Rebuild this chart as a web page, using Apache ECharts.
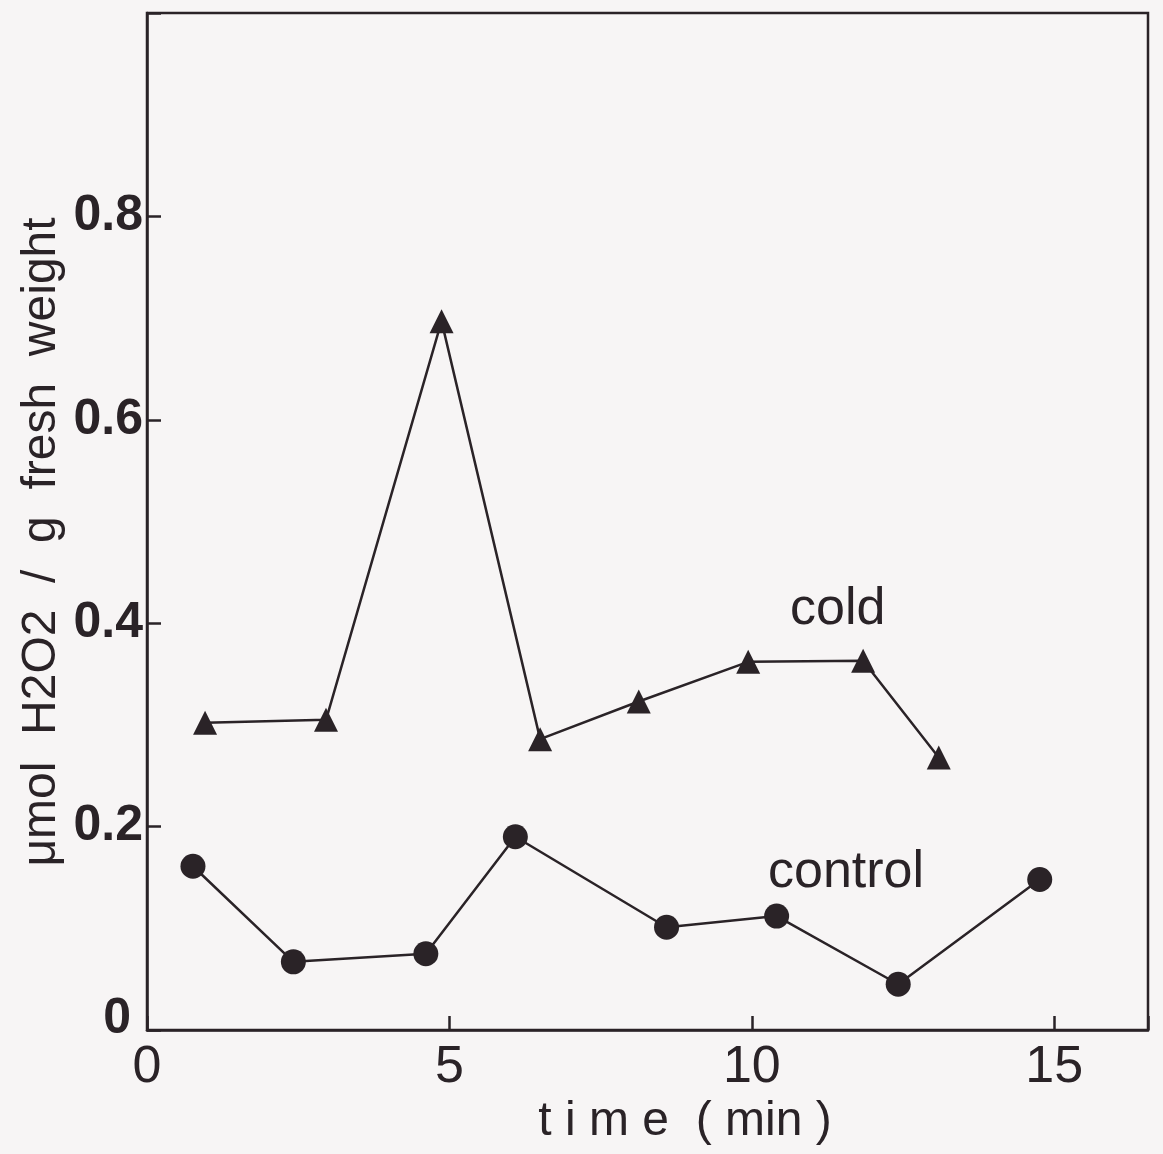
<!DOCTYPE html>
<html>
<head>
<meta charset="utf-8">
<script src="https://cdn.jsdelivr.net/npm/echarts@6/dist/echarts.min.js"></script>
<style>
  html, body { margin: 0; padding: 0; background: #f7f5f5; }
  #chart { width: 1163px; height: 1154px; }
</style>
</head>
<body>
<div id="chart"></div>
<script>
// H2O2 content after cold treatment vs. control, sampled over 15 minutes
const coldTime = [0.96, 2.96, 4.87, 6.5, 8.13, 9.94, 11.84, 13.09];
const coldValue = [0.302, 0.305, 0.697, 0.286, 0.323, 0.362, 0.363, 0.268];
const controlTime = [0.76, 2.42, 4.61, 6.09, 8.59, 10.41, 12.42, 14.76];
const controlValue = [0.161, 0.067, 0.075, 0.19, 0.101, 0.112, 0.045, 0.148];

const xTicks = [0, 5, 10, 15];
const yTicks = [0, 0.2, 0.4, 0.6, 0.8];

const ink = '#2a2327';
const fontFamily = '"Liberation Sans", Arial, Helvetica, sans-serif';

const chart = echarts.init(document.getElementById('chart'), null, { renderer: 'canvas' });

const pairs = (xs, ys) => xs.map((x, i) => [x, ys[i]]);

chart.setOption({
  backgroundColor: '#f7f5f5',
  animation: false,
  grid: {
    left: 147, right: 15, top: 13, bottom: 124,
    containLabel: false, outerBoundsMode: 'none',
    show: true, borderColor: ink, borderWidth: 2.5, backgroundColor: 'transparent'
  },
  xAxis: {
    type: 'value', min: 0, max: 16.55, interval: 5,
    axisLine: { lineStyle: { color: ink, width: 2.5 } },
    axisTick: { inside: true, length: 14, lineStyle: { color: ink, width: 2.5 } },
    axisLabel: {
      fontFamily, fontSize: 52, color: ink, margin: 12,
      formatter: v => (xTicks.indexOf(v) >= 0 ? String(v) : '')
    },
    splitLine: { show: false }
  },
  yAxis: {
    type: 'value', min: 0, max: 1.0, interval: 0.2,
    axisLine: { lineStyle: { color: ink, width: 2.5 } },
    axisTick: { inside: true, length: 14, lineStyle: { color: ink, width: 2.5 } },
    axisLabel: {
      fontFamily, fontSize: 50, fontWeight: 'bold', color: ink, margin: 4,
      formatter: v => {
        const r = Math.round(v * 10) / 10;
        if (yTicks.indexOf(r) < 0) return '';
        return r === 0 ? '{z|0}' : r.toFixed(1);
      },
      rich: { z: { fontFamily, fontSize: 50, fontWeight: 'bold', color: ink, padding: [0, 12, 22, 0] } }
    },
    splitLine: { show: false }
  },
  series: [
    {
      name: 'cold', type: 'line', data: pairs(coldTime, coldValue),
      symbol: 'triangle', symbolSize: 24,
      lineStyle: { color: ink, width: 2.5 },
      itemStyle: { color: ink }
    },
    {
      name: 'control', type: 'line', data: pairs(controlTime, controlValue),
      symbol: 'circle', symbolSize: 25,
      lineStyle: { color: ink, width: 2.5 },
      itemStyle: { color: ink }
    }
  ],
  graphic: [
    {
      type: 'text', x: 42, y: 542, rotation: Math.PI / 2,
      style: {
        text: 'μmol  H2O2  /  g  fresh  weight', font: '48px ' + fontFamily,
        fill: ink, align: 'center', verticalAlign: 'middle'
      }
    },
    {
      type: 'text', x: 685, y: 1122,
      style: {
        text: 't i m e  ( min )', font: '48px ' + fontFamily,
        fill: ink, align: 'center', verticalAlign: 'middle'
      }
    },
    { type: 'text', left: 790, top: 584, style: { text: 'cold', font: '52px ' + fontFamily, fill: ink } },
    { type: 'text', left: 768, top: 847, style: { text: 'control', font: '52px ' + fontFamily, fill: ink } }
  ]
});
</script>
</body>
</html>
